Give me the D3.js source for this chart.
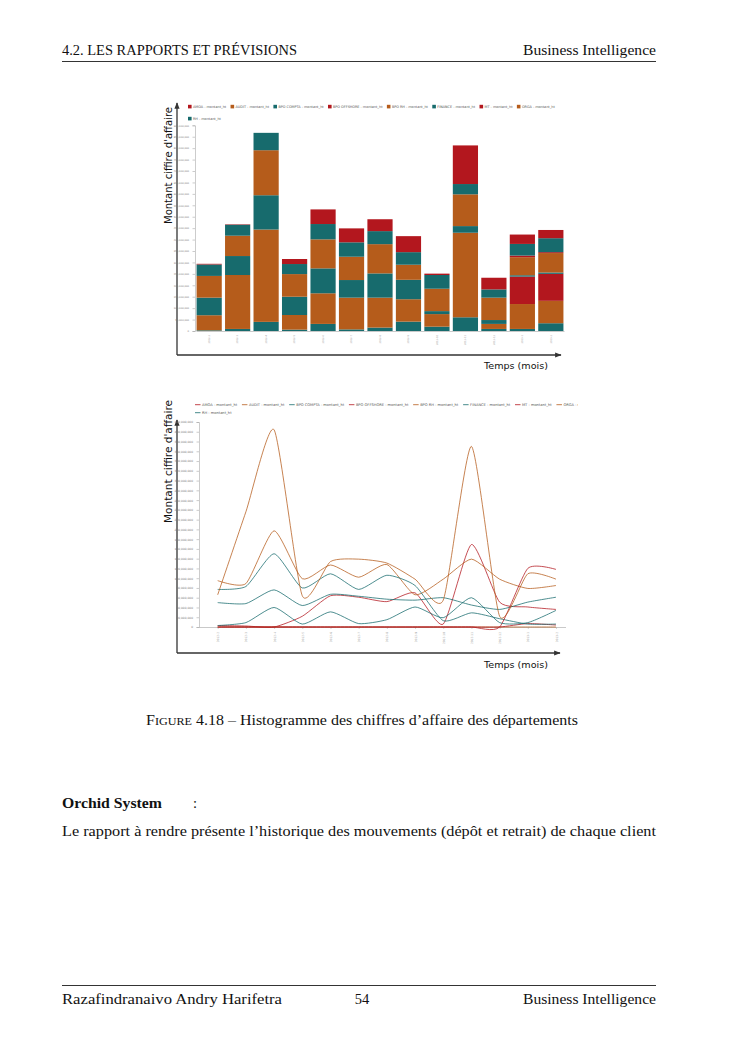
<!DOCTYPE html>
<html>
<head>
<meta charset="utf-8">
<script src="https://cdn.jsdelivr.net/npm/d3@7"></script>
<style>
  body { margin: 0; background: #fff; }
  svg { display: block; }
</style>
</head>
<body>
<svg id="page" width="745" height="1053"></svg>
<script>
// chiffre d'affaire par departement, en millions
const months = ["2012-2", "2012-3", "2012-4", "2012-5", "2012-6", "2012-7", "2012-8",
                "2012-9", "2012-10", "2012-11", "2012-12", "2013-1", "2013-2"];
const departements = ["AMOA", "AUDIT", "BPO COMPTA", "BPO OFFSHORE", "BPO RH", "FINANCE", "MT", "ORGA", "RH"];

const amoa        = [3, 2, 0, 22, 64, 61, 52, 70, 6, 169, 51, 41, 36];
const audit       = [0, 0, 0, 0, 0, 0, 0, 0, 0, 0, 0, 0, 0];
const bpoCompta   = [50, 48, 76, 44, 67, 63, 57, 55, 60, 45, 36, 51, 61];
const bpoOffshore = [0, 0, 0, 0, 0, 0, 0, 0, 0, 0, 0, 7, 4];
const bpoRh       = [95, 89, 197, 99, 127, 102, 128, 66, 98, 139, 98, 79, 85];
const finance     = [77, 83, 150, 80, 109, 77, 106, 85, 13, 29, 17, 6, 6];
const mt          = [0, 0, 0, 0, 0, 0, 0, 0, 0, 0, 0, 120, 118];
const orga        = [66, 236, 404, 64, 134, 139, 131, 98, 55, 370, 22, 109, 98];
const rh          = [3, 9, 40, 6, 31, 7, 15, 41, 19, 60, 9, 9, 34];

const barTicks = d3.range(0, 901, 50);
const lineTicks = d3.range(0, 421, 20);

const series = [amoa, audit, bpoCompta, bpoOffshore, bpoRh, finance, mt, orga, rh];
const colors = ["#b3171e", "#b55c1b", "#176b6d"];
const color = d3.scaleOrdinal().domain(departements)
    .range(departements.map((d, i) => colors[i % 3]));

const data = months.map((m, i) => {
    const row = {month: m};
    departements.forEach((k, j) => row[k] = series[j][i]);
    return row;
});

const svg = d3.select("#page");
const serif = "'Liberation Serif', 'Times New Roman', serif";
const sans = "'DejaVu Sans', Verdana, sans-serif";
const fmt = d => d3.format(",")(d * 1e6);

// ---- page latex ----
function txt(x, y, s, size, opts = {}) {
    const t = svg.append("text")
        .attr("x", x).attr("y", y)
        .attr("font-family", opts.family || serif)
        .attr("font-size", size)
        .attr("fill", "#111")
        .text(s);
    if (opts.anchor) t.attr("text-anchor", opts.anchor);
    if (opts.weight) t.attr("font-weight", opts.weight);
    if (opts.len) t.attr("textLength", opts.len).attr("lengthAdjust", "spacingAndGlyphs");
    return t;
}
txt(62, 55, "4.2.  LES RAPPORTS ET PRÉVISIONS", 14, {len: 235});
txt(656, 55, "Business Intelligence", 14.5, {anchor: "end", len: 133});
svg.append("line").attr("x1", 62).attr("x2", 656).attr("y1", 61.5).attr("y2", 61.5)
    .attr("stroke", "#000").attr("stroke-width", 0.8);

const cap = svg.append("text").attr("x", 146).attr("y", 725)
    .attr("font-family", serif).attr("fill", "#111")
    .attr("textLength", 432).attr("lengthAdjust", "spacingAndGlyphs");
cap.append("tspan").attr("font-size", 14.5).text("F");
cap.append("tspan").attr("font-size", 11).text("IGURE");
cap.append("tspan").attr("font-size", 14.5).text(" 4.18 – Histogramme des chiffres d’affaire des départements");

txt(62, 808, "Orchid System", 14.5, {weight: "bold", len: 100});
txt(193, 808, ":", 14.5);
txt(62, 836, "Le rapport à rendre présente l’historique des mouvements (dépôt et retrait) de chaque client", 14.5, {len: 594});

svg.append("line").attr("x1", 62).attr("x2", 656).attr("y1", 985.5).attr("y2", 985.5)
    .attr("stroke", "#000").attr("stroke-width", 0.8);
txt(62, 1004, "Razafindranaivo Andry Harifetra", 14.5, {len: 220});
txt(362, 1004, "54", 14.5, {anchor: "middle"});
txt(656, 1004, "Business Intelligence", 14.5, {anchor: "end", len: 133});

// ---- fleches et titres d'axes (capture) ----
const defs = svg.append("defs");
defs.append("marker").attr("id", "arrow").attr("viewBox", "0 0 10 10")
    .attr("refX", 9).attr("refY", 5).attr("markerWidth", 5).attr("markerHeight", 5)
    .attr("orient", "auto")
    .append("path").attr("d", "M0,1 L10,5 L0,9 Z").attr("fill", "#333");

function frame(top, bottom, right, labelTop, labelLen, tempsY) {
    const g = svg.append("g");
    g.append("line").attr("x1", 177).attr("x2", 177).attr("y1", bottom).attr("y2", top)
        .attr("stroke", "#333").attr("stroke-width", 1.3).attr("marker-end", "url(#arrow)");
    g.append("line").attr("x1", 177).attr("x2", right).attr("y1", bottom).attr("y2", bottom)
        .attr("stroke", "#333").attr("stroke-width", 1.3).attr("marker-end", "url(#arrow)");
    g.append("text")
        .attr("transform", `translate(172, ${labelTop + labelLen}) rotate(-90)`)
        .attr("font-family", sans).attr("font-size", 10).attr("fill", "#111")
        .attr("textLength", labelLen).attr("lengthAdjust", "spacingAndGlyphs")
        .text("Montant  ciffire d'affaire");
    g.append("text").attr("x", 548).attr("y", tempsY).attr("text-anchor", "end")
        .attr("font-family", sans).attr("font-size", 9.5).attr("fill", "#111")
        .attr("textLength", 64).attr("lengthAdjust", "spacingAndGlyphs")
        .text("Temps (mois)");
}
frame(103, 355, 561, 107, 117, 369);
frame(420, 653, 560, 400, 123, 668);

// ---- legende ----
function legend(g, x0, y0, row2y, fs, gap, kind) {
    let x = x0;
    departements.forEach((k, i) => {
        const y = i < 8 ? y0 : row2y;
        if (i === 8) x = x0;
        if (kind === "rect") {
            g.append("rect").attr("x", x).attr("y", y - 3.2).attr("width", 3.6).attr("height", 3.6)
                .attr("fill", color(k));
        } else {
            g.append("line").attr("x1", x).attr("x2", x + 5.5).attr("y1", y - 1.3).attr("y2", y - 1.3)
                .attr("stroke", color(k)).attr("stroke-width", 0.8);
        }
        const t = g.append("text").attr("x", x + (kind === "rect" ? 5 : 7)).attr("y", y)
            .attr("font-family", sans).attr("font-size", fs).attr("fill", "#555")
            .text(k + " - montant_ht");
        x += (kind === "rect" ? 5 : 7) + t.node().getComputedTextLength() + gap;
    });
}

// ---- histogramme empile ----
const barG = svg.append("g");
const xb = d3.scaleBand().domain(months).range([196, 564]).paddingInner(0.115).paddingOuter(0.02);
const yb = d3.scaleLinear().domain([0, 900]).range([331, 125.3]);

const stack = d3.stack().keys(departements.slice().reverse());
barG.append("g").selectAll("g")
    .data(stack(data))
    .join("g")
    .attr("fill", d => color(d.key))
    .selectAll("rect")
    .data(d => d)
    .join("rect")
    .attr("x", d => xb(d.data.month))
    .attr("y", d => yb(d[1]))
    .attr("width", xb.bandwidth())
    .attr("height", d => yb(d[0]) - yb(d[1]));

const yAxB = barG.append("g").attr("transform", "translate(195,0)")
    .call(d3.axisLeft(yb).tickValues(barTicks).tickFormat(fmt).tickSize(2.5));
yAxB.selectAll("text").attr("font-size", 2.4).attr("fill", "#777").attr("font-family", sans).attr("dx", "-0.5");
yAxB.selectAll("line, path").attr("stroke", "#aaa").attr("stroke-width", 0.6);

const xAxB = barG.append("g").attr("transform", "translate(0,331)")
    .call(d3.axisBottom(xb).tickSize(0));
xAxB.select("path").attr("stroke", "#bbb").attr("stroke-width", 0.8);
xAxB.selectAll("text").attr("font-size", 2.4).attr("fill", "#999").attr("font-family", sans)
    .attr("transform", "rotate(-90)").attr("text-anchor", "end")
    .attr("x", -4).attr("y", 0).attr("dy", "0.35em");

legend(barG, 188, 108, 120, 3.4, 4.4, "rect");

// ---- courbes ----
const clip = defs.append("clipPath").attr("id", "clip2");
clip.append("rect").attr("x", 160).attr("y", 395).attr("width", 418).attr("height", 295);
const lineG = svg.append("g").attr("clip-path", "url(#clip2)");

const xl = d3.scalePoint().domain(months).range([217.7, 556]);
const yl = d3.scaleLinear().domain([0, 420]).range([627, 422]);

const yAxL = lineG.append("g").attr("transform", "translate(199,0)")
    .call(d3.axisLeft(yl).tickValues(lineTicks).tickFormat(fmt).tickSize(2.5));
yAxL.selectAll("text").attr("font-size", 2.9).attr("fill", "#777").attr("font-family", sans).attr("dx", "-0.5");
yAxL.selectAll("line, path").attr("stroke", "#aaa").attr("stroke-width", 0.6);

const xAxL = lineG.append("g").attr("transform", "translate(0,627)")
    .call(d3.axisBottom(xl).tickSize(2));
xAxL.select("path").attr("d", "M199,0.5H566").attr("stroke", "#bbb").attr("stroke-width", 0.8);
xAxL.selectAll("line").attr("stroke", "#aaa").attr("stroke-width", 0.5);
xAxL.selectAll("text").attr("font-size", 2.9).attr("fill", "#999").attr("font-family", sans)
    .attr("transform", "rotate(-90)").attr("text-anchor", "end")
    .attr("x", -5).attr("y", 0).attr("dy", "0.35em");

// courbe cardinale un peu tendue
const line = d3.line()
    .x((d, i) => xl(months[i]))
    .y(d => yl(d))
    .curve(d3.curveCardinal.tension(0.4));

lineG.append("g").selectAll("path")
    .data(departements.map((k, j) => ({key: k, values: series[j]})))
    .join("path")
    .attr("d", d => line(d.values))
    .attr("fill", "none")
    .attr("stroke", d => color(d.key))
    .attr("stroke-opacity", 0.85)
    .attr("stroke-width", 0.9);

legend(lineG, 195, 406, 414, 3.6, 4.8, "line");
</script>
</body>
</html>
